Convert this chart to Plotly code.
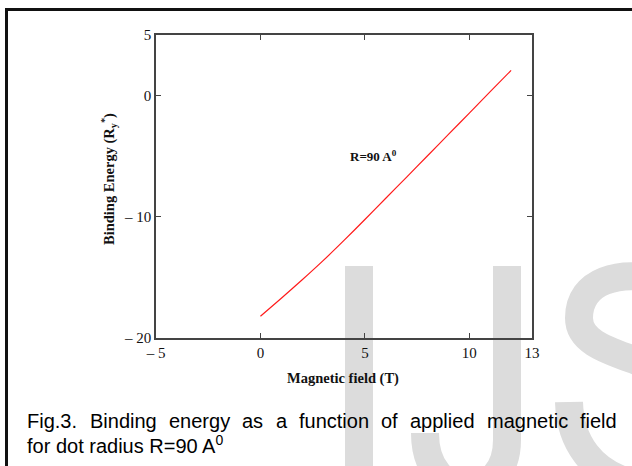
import plotly.graph_objects as go

# ---------------- data ----------------
field_T = [0, 1, 2, 3, 4, 5, 6, 7, 8, 9, 10, 11, 12]
binding_energy = [-18.2, -16.72, -15.2, -13.62, -11.95, -10.22, -8.47, -6.72, -4.96, -3.2, -1.45, 0.33, 2.08]

x_tickvals = [-5, 0, 5, 10, 13]
x_ticktext = ["\u2013 5", "0", "5", "10", "13"]
y_tickvals = [-20, -10, 0, 5]
y_ticktext = ["\u2013 20", "\u2013 10", "0", "5"]

caption_line1 = ["Fig.3.", "Binding", "energy", "as", "a", "function", "of", "applied", "magnetic", "field"]
caption_line2 = "for dot radius R=90 A<sup>0</sup>"

# ---------------- layout geometry ----------------
W, H = 632, 466
L, R, T, B = 156, 532, 35, 338


def px(x):
    return (x - L) / (R - L)


def py(y):
    return (B - y) / (B - T)


fig = go.Figure()
fig.add_trace(go.Scatter(x=field_T, y=binding_energy, mode="lines",
                         line=dict(color="#ff1a1a", width=1.2, shape="spline", smoothing=0.6),
                         showlegend=False, hoverinfo="skip"))

serif = "Liberation Serif"
axis_common = dict(showline=True, linecolor="#444", linewidth=1.5, mirror="ticks",
                   ticks="inside", ticklen=5, tickwidth=1.3, tickcolor="#444",
                   showgrid=False, zeroline=False,
                   tickfont=dict(family=serif, size=15, color="#111"))

fig.update_xaxes(range=[-5, 13], tickmode="array", tickvals=x_tickvals,
                 ticktext=x_ticktext, **axis_common)
fig.update_yaxes(range=[-20, 5], tickmode="array", tickvals=y_tickvals,
                 ticktext=y_ticktext, **axis_common)

gray = "#dcdcdc"
shapes = []
# outer frame: top edge (two pieces) and left edge
for xa, xb in [(5, 320), (318, 632)]:
    shapes.append(dict(type="rect", xref="paper", yref="paper",
                       x0=px(xa), x1=px(xb), y0=py(11), y1=py(8),
                       fillcolor="#111", line=dict(width=0), layer="above"))
shapes.append(dict(type="rect", xref="paper", yref="paper",
                   x0=px(5), x1=px(8), y0=py(466), y1=py(8),
                   fillcolor="#111", line=dict(width=0), layer="above"))
# watermark "I"
shapes.append(dict(type="rect", xref="paper", yref="paper",
                   x0=px(345), x1=px(373), y0=py(266), y1=py(466),
                   fillcolor=gray, line=dict(width=0), layer="below"))


def P(x, y):
    return f"{px(x):.5f},{py(y):.5f}"


# watermark "J"
shapes.append(dict(type="path", xref="paper", yref="paper",
                   path=f"M {P(507,266)} L {P(507,440)} C {P(507,505)} {P(425,505)} {P(425,433)}",
                   line=dict(color=gray, width=28), layer="below"))
# watermark "S" (upper bowl and lower terminal)
shapes.append(dict(type="path", xref="paper", yref="paper",
                   path=f"M {P(660,280)} C {P(620,270)} {P(579,280)} {P(579,318)} C {P(579,345)} {P(615,352)} {P(650,366)}",
                   line=dict(color=gray, width=28), layer="below"))
shapes.append(dict(type="path", xref="paper", yref="paper",
                   path=f"M {P(569,402)} C {P(570,440)} {P(590,475)} {P(640,485)}",
                   line=dict(color=gray, width=28), layer="below"))

annotations = []
# axis titles
annotations.append(dict(xref="paper", yref="paper", x=px(343), y=py(378),
                        text="<b>Magnetic field (T)</b>", showarrow=False,
                        font=dict(family=serif, size=14.5, color="#111"),
                        xanchor="center", yanchor="middle"))
annotations.append(dict(xref="paper", yref="paper", x=px(109), y=py(179),
                        text="<b>Binding Energy (R<sub>y</sub><sup>*</sup>)</b>",
                        showarrow=False, textangle=-90,
                        font=dict(family=serif, size=14.5, color="#111"),
                        xanchor="center", yanchor="middle"))
# in-plot label
annotations.append(dict(xref="x", yref="y", x=5.43, y=-5.0,
                        text="<b>R=90 A<sup>0</sup></b>", showarrow=False,
                        font=dict(family=serif, size=13, color="#111"),
                        xanchor="center", yanchor="middle"))

# caption, first line justified word by word
word_x = [26, 89, 168, 241, 275, 298, 380, 409, 486, 579]
for wtxt, wx in zip(caption_line1, word_x):
    annotations.append(dict(xref="paper", yref="paper", x=px(wx), y=py(421),
                            text=wtxt, showarrow=False, borderpad=0,
                            font=dict(family="Liberation Sans", size=20, color="#000"),
                            xanchor="left", yanchor="middle"))
annotations.append(dict(xref="paper", yref="paper", x=px(26), y=py(444),
                        text=caption_line2, showarrow=False, borderpad=0,
                        font=dict(family="Liberation Sans", size=20, color="#000"),
                        xanchor="left", yanchor="middle"))

fig.update_layout(width=W, height=H,
                  margin=dict(l=L, r=W - R, t=T, b=H - B),
                  paper_bgcolor="white", plot_bgcolor="rgba(0,0,0,0)",
                  shapes=shapes, annotations=annotations, showlegend=False)

fig.write_html("out.html", config={"displayModeBar": False},
               post_script="document.body.style.margin='0';document.body.style.overflow='hidden';")
